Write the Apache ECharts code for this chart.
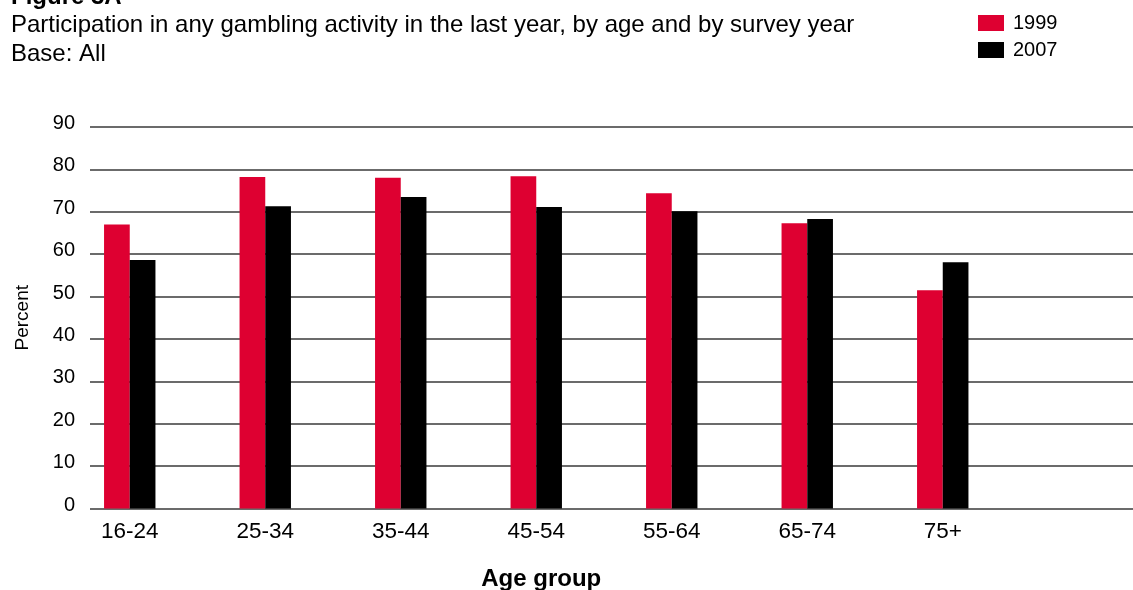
<!DOCTYPE html>
<html>
<head>
<meta charset="utf-8">
<title>Participation in any gambling activity</title>
<script src="https://cdn.jsdelivr.net/npm/echarts@6/dist/echarts.min.js"></script>
<style>
  html, body { margin: 0; padding: 0; background: #fff; }
  #chart { width: 1133px; height: 590px; }
</style>
</head>
<body>
<div id="chart"></div>
<script>
// Age groups along the horizontal axis
const ageGroups = ['16-24', '25-34', '35-44', '45-54', '55-64', '65-74', '75+'];
// Percent who took part in any gambling activity in the last year
const pct1999 = [67, 78.2, 78, 78.4, 74.4, 67.3, 51.5];
const pct2007 = [58.6, 71.3, 73.5, 71.1, 70.1, 68.3, 58.1];
const seriesNames = ['1999', '2007'];
const yTicks = { min: 0, max: 90, interval: 10 };

const FONT = '"Liberation Sans", Arial, Helvetica, sans-serif';
const RED = '#DE0031';
const BLACK = '#000000';

const chart = echarts.init(document.getElementById('chart'), null, { renderer: 'canvas' });

const plotTop = 127;
const plotBottom = 590 - 508.5;

chart.setOption({
  animation: false,
  backgroundColor: '#fff',
  textStyle: { fontFamily: FONT },
  graphic: [
    { type: 'text', left: 11, top: -15, style: { text: 'Figure 3A', font: 'bold 24px ' + FONT, fill: '#000' } },
    { type: 'text', left: 11, top: 13, style: { text: 'Participation in any gambling activity in the last year, by age and by survey year', font: '24px ' + FONT, fill: '#000' } },
    { type: 'text', left: 11, top: 42, style: { text: 'Base: All', font: '24px ' + FONT, fill: '#000' } }
  ],
  legend: {
    data: seriesNames,
    orient: 'vertical',
    left: 978,
    top: 13,
    padding: 0,
    icon: 'rect',
    itemWidth: 26,
    itemHeight: 16,
    itemGap: 7,
    textStyle: { fontFamily: FONT, fontSize: 20, color: '#000', padding: [0, 0, 0, 4] }
  },
  grid: [
    // gridlines and value labels
    { left: 90, right: 0, top: plotTop, bottom: plotBottom, containLabel: false, outerBoundsMode: 'none' },
    // bars, offset so group centres sit on their labels
    { left: 62, right: 122.5, top: plotTop, bottom: plotBottom, containLabel: false, outerBoundsMode: 'none' }
  ],
  xAxis: [
    { gridIndex: 0, type: 'value', show: false, min: 0, max: 1 },
    {
      gridIndex: 1,
      type: 'category',
      data: ageGroups,
      boundaryGap: true,
      axisLine: { show: false },
      axisTick: { show: false },
      axisLabel: { color: '#000', fontSize: 22.5, fontFamily: FONT, margin: 12 },
      name: 'Age group',
      nameLocation: 'middle',
      nameGap: 59,
      nameTextStyle: { color: '#000', fontSize: 24, fontWeight: 'bold', fontFamily: FONT, padding: [0, 0, 0, 10] }
    }
  ],
  yAxis: [
    {
      gridIndex: 0,
      type: 'value',
      min: yTicks.min,
      max: yTicks.max,
      interval: yTicks.interval,
      axisLine: { show: false },
      axisTick: { show: false },
      axisLabel: { color: '#000', fontSize: 20, fontFamily: FONT, margin: 15, verticalAlign: 'bottom', lineHeight: 7 },
      splitLine: { show: true, lineStyle: { color: '#3a3a3a', width: 1.5 } },
      name: 'Percent',
      nameLocation: 'middle',
      nameRotate: 90,
      nameGap: 58,
      nameTextStyle: { color: '#000', fontSize: 19, fontFamily: FONT }
    },
    {
      gridIndex: 1,
      type: 'value',
      min: yTicks.min,
      max: yTicks.max,
      interval: yTicks.interval,
      show: false,
      splitLine: { show: false }
    }
  ],
  series: [
    {
      name: seriesNames[0],
      type: 'bar',
      xAxisIndex: 1,
      yAxisIndex: 1,
      data: pct1999,
      barWidth: 25.7,
      barGap: '0%',
      itemStyle: { color: RED }
    },
    {
      name: seriesNames[1],
      type: 'bar',
      xAxisIndex: 1,
      yAxisIndex: 1,
      data: pct2007,
      barWidth: 25.7,
      barGap: '0%',
      itemStyle: { color: BLACK }
    }
  ]
});
</script>
</body>
</html>
